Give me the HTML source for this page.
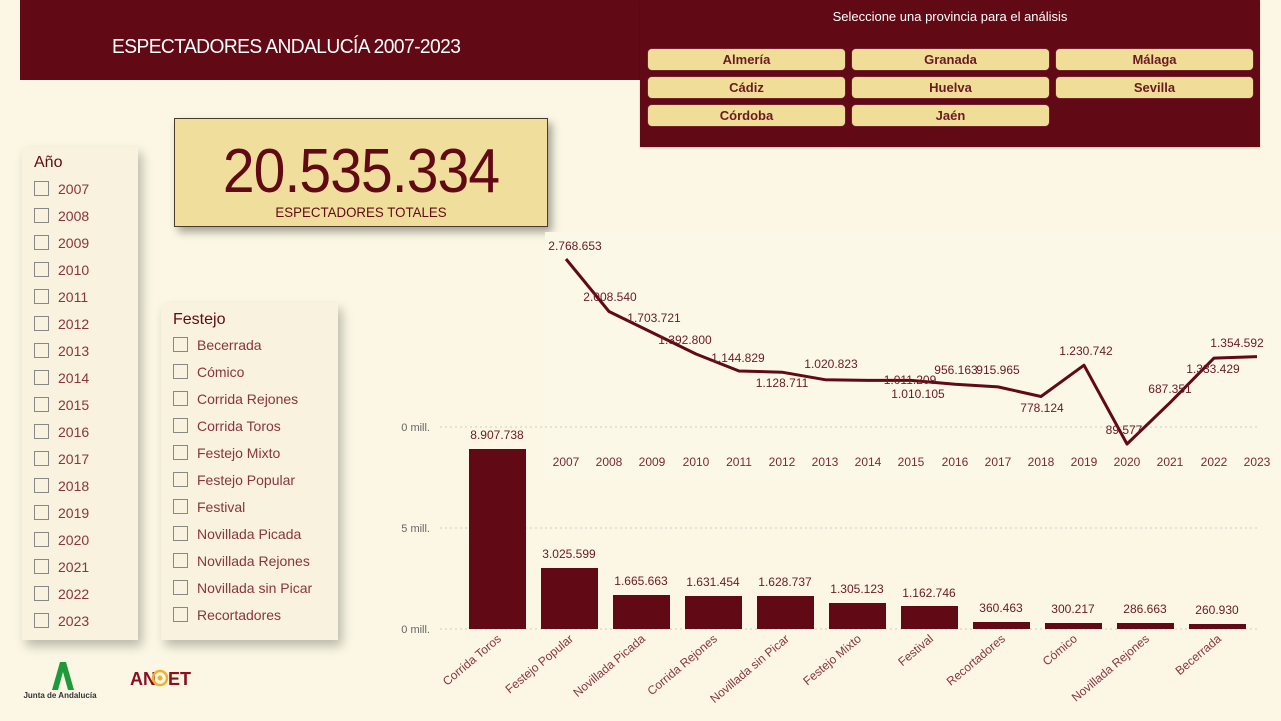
<!DOCTYPE html>
<html><head><meta charset="utf-8"><style>
body{margin:0;width:1281px;height:721px;background:#fbf7e4;font-family:"Liberation Sans",sans-serif;position:relative;overflow:hidden}
.abs{position:absolute}
.hdr{left:20px;top:0;width:1240px;height:80px;background:#610a15}
.title{left:112px;top:36px;color:#fff;font-size:20px;letter-spacing:-0.6px;transform:scaleX(0.96);transform-origin:left}
.prov{left:640px;top:0;width:620px;height:147px;background:#610a15;box-shadow:0 1px 2px rgba(0,0,0,.2)}
.sel{left:640px;width:620px;top:9px;text-align:center;color:#fff;font-size:13px}
.btn{position:absolute;width:197px;height:21px;background:#f0dd98;border-radius:4px;color:#6a1a22;font-weight:bold;font-size:13px;text-align:center;line-height:21px;box-shadow:0 0 1px #c9a}
.kpi{left:174px;top:118px;width:372px;height:107px;background:#f0df9c;border:1px solid #4a3a30;box-shadow:4px 5px 8px rgba(0,0,0,.35);text-align:center;color:#610a15}
.panel{background:#f8f2de;box-shadow:4px 6px 10px rgba(0,0,0,.25)}
.item{position:absolute;left:12px;color:#8a3440;font-size:14px}
.item span{display:inline-block;width:13px;height:13px;border:1px solid #888;margin-right:9px;vertical-align:-2px}
.ph{position:absolute;left:12px;color:#610a15;font-size:16px}
</style></head><body>
<div class="abs hdr"></div>
<div class="abs title">ESPECTADORES ANDALUCÍA 2007-2023</div>
<div class="abs prov"></div>
<div class="abs sel">Seleccione una provincia para el análisis</div>
<div class="btn" style="left:648px;top:49px">Almería</div>
<div class="btn" style="left:852px;top:49px">Granada</div>
<div class="btn" style="left:1056px;top:49px">Málaga</div>
<div class="btn" style="left:648px;top:77px">Cádiz</div>
<div class="btn" style="left:852px;top:77px">Huelva</div>
<div class="btn" style="left:1056px;top:77px">Sevilla</div>
<div class="btn" style="left:648px;top:105px">Córdoba</div>
<div class="btn" style="left:852px;top:105px">Jaén</div>

<div class="abs kpi"><div style="font-size:62px;line-height:62px;margin-top:22px;letter-spacing:-1px;transform:scaleX(0.92)">20.535.334</div><div style="font-size:14px;margin-top:1px;transform:scaleX(0.95)">ESPECTADORES TOTALES</div></div>

<div class="abs panel" style="left:22px;top:147px;width:116px;height:493px">
<div class="ph" style="top:7px">Año</div>
<div class="item" style="top:34px"><span></span>2007</div>
<div class="item" style="top:61px"><span></span>2008</div>
<div class="item" style="top:88px"><span></span>2009</div>
<div class="item" style="top:115px"><span></span>2010</div>
<div class="item" style="top:142px"><span></span>2011</div>
<div class="item" style="top:169px"><span></span>2012</div>
<div class="item" style="top:196px"><span></span>2013</div>
<div class="item" style="top:223px"><span></span>2014</div>
<div class="item" style="top:250px"><span></span>2015</div>
<div class="item" style="top:277px"><span></span>2016</div>
<div class="item" style="top:304px"><span></span>2017</div>
<div class="item" style="top:331px"><span></span>2018</div>
<div class="item" style="top:358px"><span></span>2019</div>
<div class="item" style="top:385px"><span></span>2020</div>
<div class="item" style="top:412px"><span></span>2021</div>
<div class="item" style="top:439px"><span></span>2022</div>
<div class="item" style="top:466px"><span></span>2023</div>
</div>
<div class="abs panel" style="left:161px;top:303px;width:177px;height:337px">
<div class="ph" style="top:8px">Festejo</div>
<div class="item" style="top:34px"><span></span>Becerrada</div>
<div class="item" style="top:61px"><span></span>Cómico</div>
<div class="item" style="top:88px"><span></span>Corrida Rejones</div>
<div class="item" style="top:115px"><span></span>Corrida Toros</div>
<div class="item" style="top:142px"><span></span>Festejo Mixto</div>
<div class="item" style="top:169px"><span></span>Festejo Popular</div>
<div class="item" style="top:196px"><span></span>Festival</div>
<div class="item" style="top:223px"><span></span>Novillada Picada</div>
<div class="item" style="top:250px"><span></span>Novillada Rejones</div>
<div class="item" style="top:277px"><span></span>Novillada sin Picar</div>
<div class="item" style="top:304px"><span></span>Recortadores</div>
</div>

<svg class="abs" style="left:0;top:0" width="1281" height="721" font-family="Liberation Sans, sans-serif">
<rect x="545" y="232" width="736" height="248" fill="#fcf8e8"/>
<path d="M52 690 L60 662 L66 662 L74 690 L68 690 L63 672 L58 690 Z" fill="#1e9a3a"/>
<text x="60" y="698" font-size="8" fill="#333" text-anchor="middle" font-weight="bold">Junta de Andalucía</text>
<text x="130" y="685" font-size="18" font-weight="bold" fill="#8a1020">AN</text>
<circle cx="160" cy="678" r="7" fill="none" stroke="#f0b030" stroke-width="2.5"/><circle cx="160" cy="678" r="2.5" fill="#f0b030"/>
<text x="168" y="685" font-size="18" font-weight="bold" fill="#8a1020">ET</text>
<g stroke="#ccc" stroke-dasharray="2,3" stroke-width="1">
<line x1="440" y1="629" x2="1260" y2="629"/><line x1="440" y1="528" x2="1260" y2="528"/><line x1="440" y1="427" x2="1260" y2="427"/></g>
<g font-size="11" fill="#666" text-anchor="end"><text x="430" y="633">0 mill.</text><text x="430" y="532">5 mill.</text><text x="430" y="431">0 mill.</text></g>
<g fill="#610a15">
<rect x="469" y="449" width="57" height="180"/><rect x="541" y="568" width="57" height="61"/>
<rect x="613" y="595" width="57" height="34"/><rect x="685" y="596" width="57" height="33"/>
<rect x="757" y="596" width="57" height="33"/><rect x="829" y="603" width="57" height="26"/>
<rect x="901" y="606" width="57" height="23"/><rect x="973" y="622" width="57" height="7"/>
<rect x="1045" y="623" width="57" height="6"/><rect x="1117" y="623" width="57" height="6"/><rect x="1189" y="624" width="57" height="5"/></g>
<g font-size="12" fill="#6a1a22" text-anchor="middle">
<text x="497" y="439">8.907.738</text><text x="569" y="558">3.025.599</text><text x="641" y="585">1.665.663</text>
<text x="713" y="586">1.631.454</text><text x="785" y="586">1.628.737</text><text x="857" y="593">1.305.123</text>
<text x="929" y="597">1.162.746</text><text x="1001" y="612">360.463</text><text x="1073" y="613">300.217</text>
<text x="1145" y="613">286.663</text><text x="1217" y="614">260.930</text></g>
<g font-size="12" fill="#8a3440" text-anchor="end">
<text transform="translate(502,640) rotate(-40)">Corrida Toros</text>
<text transform="translate(574,640) rotate(-40)">Festejo Popular</text>
<text transform="translate(646,640) rotate(-40)">Novillada Picada</text>
<text transform="translate(718,640) rotate(-40)">Corrida Rejones</text>
<text transform="translate(790,640) rotate(-40)">Novillada sin Picar</text>
<text transform="translate(862,640) rotate(-40)">Festejo Mixto</text>
<text transform="translate(934,640) rotate(-40)">Festival</text>
<text transform="translate(1006,640) rotate(-40)">Recortadores</text>
<text transform="translate(1078,640) rotate(-40)">Cómico</text>
<text transform="translate(1150,640) rotate(-40)">Novillada Rejones</text>
<text transform="translate(1222,640) rotate(-40)">Becerrada</text></g>
<polyline fill="none" stroke="#610a15" stroke-width="3" stroke-linejoin="round" points="566,259 609,311.5 652,332.5 696,354 739,371 782,372.2 825,379.7 868,380.4 911,380.4 955,384.2 998,386.9 1041,396.5 1084,365.2 1127,444 1170,402.7 1214,358.1 1257,356.6"/>
<g font-size="12" fill="#7a2a35" text-anchor="middle">
<text x="566" y="466">2007</text><text x="609" y="466">2008</text><text x="652" y="466">2009</text><text x="696" y="466">2010</text>
<text x="739" y="466">2011</text><text x="782" y="466">2012</text><text x="825" y="466">2013</text><text x="868" y="466">2014</text>
<text x="911" y="466">2015</text><text x="955" y="466">2016</text><text x="998" y="466">2017</text><text x="1041" y="466">2018</text>
<text x="1084" y="466">2019</text><text x="1127" y="466">2020</text><text x="1170" y="466">2021</text><text x="1214" y="466">2022</text><text x="1257" y="466">2023</text></g>
<g font-size="12" fill="#6a1a22" text-anchor="middle">
<text x="575" y="250">2.768.653</text><text x="610" y="301">2.008.540</text><text x="654" y="322">1.703.721</text>
<text x="685" y="344">1.392.800</text><text x="738" y="362">1.144.829</text><text x="782" y="387">1.128.711</text>
<text x="831" y="368">1.020.823</text><text x="910" y="384">1.011.209</text><text x="918" y="398">1.010.105</text>
<text x="956" y="374">956.163</text><text x="998" y="374">915.965</text><text x="1042" y="412">778.124</text>
<text x="1086" y="355">1.230.742</text><text x="1124" y="434">89.577</text><text x="1170" y="393">687.351</text>
<text x="1213" y="373">1.333.429</text><text x="1237" y="347">1.354.592</text></g>
</svg>
</body></html>
